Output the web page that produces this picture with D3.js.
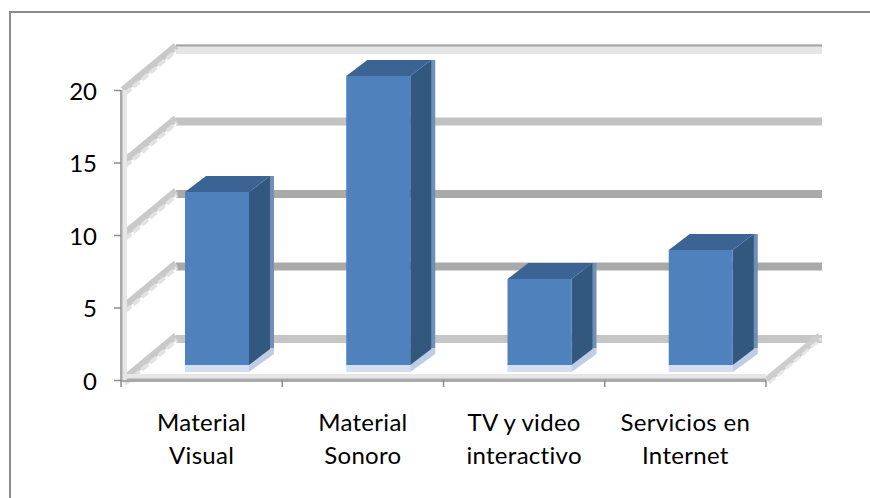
<!DOCTYPE html>
<html><head><meta charset="utf-8">
<script src="https://cdn.jsdelivr.net/npm/d3@7"></script>
<style>html,body{margin:0;padding:0;background:#fff}svg{display:block}</style>
</head><body><svg id="c" width="870" height="498"></svg>
<script>
const categories=[["Material","Visual"],["Material","Sonoro"],["TV y video","interactivo"],["Servicios en","Internet"]];
const values=[12,20,6,8];
const yTicks=[0,5,10,15,20];
const gridColors=["#c6c6c6","#a9a9a9","#a9a9a9","#c2c2c2","#e6e6e6"];

const W=870,H=498,wallDx=55,wallDy=-41,barDx=21,barDy=-16,barW=64,barInset=64,barLift=14;
const svg=d3.select("#c");
const defs=svg.append("defs");
defs.append("filter").attr("id","soft").attr("x","-5%").attr("y","-5%").attr("width","110%").attr("height","110%")
  .append("feGaussianBlur").attr("stdDeviation",0.6);
const y=d3.scaleLinear().domain([0,20]).range([380,90]);
const x=d3.scaleBand().domain(d3.range(categories.length)).range([121,766]);

svg.append("path").attr("d",`M${W},12H10V${H}`).attr("fill","none").attr("stroke","#8c8c8c").attr("stroke-width",2);

const chart=svg.append("g").attr("filter","url(#soft)");
const right=x.range()[1]+wallDx;

yTicks.forEach((t,i)=>{
  const yy=y(t)+wallDy;
  chart.append("rect").attr("x",x.range()[0]+wallDx).attr("width",right-x.range()[0]-wallDx+1)
    .attr("y",yy-4+(t==20?-1:0)).attr("height",t==20?10:8).attr("fill",gridColors[i]);
  if(t==20) chart.append("rect").attr("x",x.range()[0]+wallDx).attr("width",right-x.range()[0]-wallDx+1)
    .attr("y",yy-4.5).attr("height",2).attr("fill","#a4a4a4");
  chart.append("line").attr("x1",x.range()[0]+2).attr("y1",y(t)).attr("x2",x.range()[0]+wallDx).attr("y2",yy-3)
    .attr("stroke","#c9c9c9").attr("stroke-width",7);
  chart.append("line").attr("x1",x.range()[0]+4).attr("y1",y(t)+4).attr("x2",x.range()[0]+wallDx+1).attr("y2",yy+1)
    .attr("stroke","#e2e2e2").attr("stroke-width",4).attr("stroke-dasharray","8 3");
});
chart.append("line").attr("x1",x.range()[1]+1).attr("y1",y(0)).attr("x2",right-1).attr("y2",y(0)+wallDy-3)
  .attr("stroke","#cdcdcd").attr("stroke-width",7);
chart.append("line").attr("x1",x.range()[1]+3).attr("y1",y(0)+3).attr("x2",right).attr("y2",y(0)+wallDy)
  .attr("stroke","#e8e8e8").attr("stroke-width",3).attr("stroke-dasharray","8 3");
chart.append("rect").attr("x",x.range()[0]).attr("width",x.range()[1]-x.range()[0]).attr("y",y(0)-6).attr("height",5).attr("fill","#e6e6e6");
chart.append("rect").attr("x",x.range()[0]).attr("width",x.range()[1]-x.range()[0]).attr("y",y(0)-1.5).attr("height",3.5).attr("fill","#a9a9a9");
chart.append("rect").attr("x",x.range()[0]+1).attr("width",5).attr("y",y(20)).attr("height",y(0)-y(20)).attr("fill","#e6e6e6");
chart.append("rect").attr("x",x.range()[0]-1).attr("width",2.5).attr("y",y(20)).attr("height",y(0)-y(20)).attr("fill","#a9a9a9");

values.forEach((v,i)=>{
  const x0=x(i)+barInset,x1=x0+barW,base=y(0)-barLift-1,top=y(v)-barLift;
  const g=chart.append("g");
  g.append("rect").attr("x",x0).attr("y",base-1).attr("width",barW).attr("height",8).attr("fill","#d3dff0");
  g.append("path").attr("d",`M${x1},${base+7}L${x1+barDx+4},${base+barDy+5}V${base+barDy-2}H${x1}Z`).attr("fill","#bccde4");
  g.append("rect").attr("x",x1+barDx-1).attr("y",top+barDy).attr("width",5).attr("height",base-top-1).attr("fill","#6f8fb6");
  g.append("path").attr("d",`M${x1},${top}L${x1+barDx},${top+barDy}V${base+barDy}L${x1},${base}Z`).attr("fill","#33587f");
  g.append("path").attr("d",`M${x0},${top}L${x0+barDx},${top+barDy}H${x1+barDx}L${x1},${top}Z`).attr("fill","#3a6394");
  g.append("rect").attr("x",x0).attr("y",top).attr("width",barW).attr("height",base-top).attr("fill","#4f81bd");
});

const font="Lato, 'Open Sans', sans-serif";
const ay=svg.append("g").attr("transform",`translate(${x.range()[0]},0)`)
  .call(d3.axisLeft(y).tickValues(yTicks).tickSize(7).tickPadding(17).tickFormat(d3.format("d")));
ay.select(".domain").remove();
ay.selectAll("line").attr("stroke","#8c8c8c").attr("stroke-width",1.5);
ay.selectAll("text").attr("font-family",font).attr("font-size",24).attr("fill","#000").attr("dy","0.38em");
const ax=svg.append("g").attr("transform",`translate(0,${y(0)})`);
ax.selectAll("line").data(d3.range(categories.length+1)).join("line")
  .attr("x1",i=>x.range()[0]+i*x.step()).attr("x2",i=>x.range()[0]+i*x.step())
  .attr("y1",0).attr("y2",7).attr("stroke","#8c8c8c").attr("stroke-width",1.5);
categories.forEach((lines,i)=>{
  lines.forEach((s,j)=>{
    svg.append("text").attr("x",x(i)+x.bandwidth()/2).attr("y",431+j*33)
      .attr("text-anchor","middle").attr("font-family",font).attr("font-size",24).attr("letter-spacing",0.3).attr("fill","#000").text(s);
  });
});
</script></body></html>
